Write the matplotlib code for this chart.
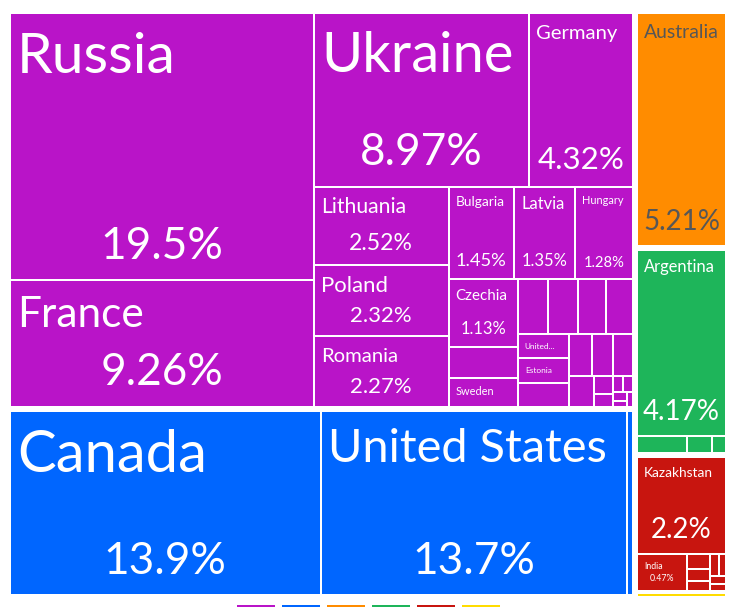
import matplotlib.pyplot as plt
from matplotlib.patches import Rectangle

plt.rcParams['font.family'] = ['Lato', 'DejaVu Sans']

# share of total, by continent
regions = ["Europe", "North America", "Oceania", "South America", "Asia", "Africa"]
region_colors = ["#B914C8", "#0066FF", "#FF8C00", "#1EB55A", "#C8150F", "#FFDC00"]

europe_names = ["Russia", "France", "Ukraine", "Germany", "Lithuania", "Poland", "Romania",
                "Bulgaria", "Latvia", "Hungary", "Czechia", "Slovakia", "Sweden", "Belarus",
                "Austria", "Serbia", "Finland", "United Kingdom", "Estonia", "Denmark",
                "Croatia", "Netherlands", "Moldova", "Belgium", "Italy", "Spain", "Norway",
                "Slovenia", "Greece", "Portugal", "Ireland"]
europe_values = [19.5, 9.26, 8.97, 4.32, 2.52, 2.32, 2.27, 1.45, 1.35, 1.28, 1.13, 0.52, 0.48,
                 0.40, 0.40, 0.37, 0.36, 0.30, 0.30, 0.30, 0.23, 0.21, 0.20, 0.18, 0.08, 0.06,
                 0.04, 0.04, 0.03, 0.02, 0.02]

namerica_names = ["Canada", "United States", "Mexico"]
namerica_values = [13.9, 13.7, 0.28]

oceania_names = ["Australia"]
oceania_values = [5.21]

samerica_names = ["Argentina", "Brazil", "Paraguay", "Uruguay"]
samerica_values = [4.17, 0.22, 0.11, 0.06]

asia_names = ["Kazakhstan", "India", "China", "Turkey", "Iran", "Japan", "Israel", "Georgia", "Uzbekistan"]
asia_values = [2.2, 0.47, 0.09, 0.07, 0.06, 0.05, 0.04, 0.03, 0.03]

africa_names = ["Egypt", "Morocco", "Tunisia", "Algeria"]
africa_values = [0.07, 0.006, 0.005, 0.004]

groups = [(europe_names, europe_values), (namerica_names, namerica_values),
          (oceania_names, oceania_values), (samerica_names, samerica_values),
          (asia_names, asia_values), (africa_names, africa_values)]

# label styles: (shown text, label px, percent px or None)
label_style = {
    "Russia": ("Russia", 62, 48), "Ukraine": ("Ukraine", 61, 48), "France": ("France", 46, 48),
    "Canada": ("Canada", 63, 48), "United States": ("United States", 51, 48),
    "Germany": ("Germany", 22, 34), "Australia": ("Australia", 21, 30),
    "Argentina": ("Argentina", 18, 30), "Kazakhstan": ("Kazakhstan", 15, 30),
    "Lithuania": ("Lithuania", 23, 25), "Poland": ("Poland", 24, 24), "Romania": ("Romania", 22, 24),
    "Bulgaria": ("Bulgaria", 15, 20), "Latvia": ("Latvia", 18, 18), "Hungary": ("Hungary", 12, 16),
    "Czechia": ("Czechia", 16.5, 18), "India": ("India", 9.5, 9.5),
    "United Kingdom": ("United...", 9, None), "Estonia": ("Estonia", 9, None),
    "Sweden": ("Sweden", 12, None),
}


def squarify(values, x0, y0, x1, y1, ratio=(1 + 5 ** 0.5) / 2):
    # port of d3.treemapSquarify
    rects = []
    total = float(sum(values))
    n = len(values)
    i0 = i1 = 0
    while i0 < n:
        dx, dy = x1 - x0, y1 - y0
        s = values[i1]
        i1 += 1
        mn = mx = s
        alpha = max(dy / dx, dx / dy) / (total * ratio)
        beta = s * s * alpha
        best = max(mx / beta, beta / mn)
        while i1 < n:
            v = values[i1]
            s2 = s + v
            mn2, mx2 = min(mn, v), max(mx, v)
            beta = s2 * s2 * alpha
            r = max(mx2 / beta, beta / mn2)
            if r > best:
                break
            s, mn, mx, best = s2, mn2, mx2, r
            i1 += 1
        row = values[i0:i1]
        if dx < dy:
            h = dy * s / total
            xx = x0
            for v in row:
                w = dx * v / s
                rects.append((xx, y0, xx + w, y0 + h))
                xx += w
            y0 += h
        else:
            w = dx * s / total
            yy = y0
            for v in row:
                h = dy * v / s
                rects.append((x0, yy, x0 + w, yy + h))
                yy += h
            x0 += w
        total -= s
        i0 = i1
    return rects


fig = plt.figure(figsize=(7.44, 6.07), dpi=100)
ax = fig.add_axes([0, 0, 1, 1])
ax.set_xlim(0, 744)
ax.set_ylim(607, 0)
ax.axis('off')

PX = 0.72 * 0.92  # px of the original font -> pt in Lato

group_rects = squarify([sum(v) for _, v in groups], 8, 11, 728, 597)
for gi, ((names, vals), (gx0, gy0, gx1, gy1)) in enumerate(zip(groups, group_rects)):
    color = region_colors[gi]
    txt_color = "#575757" if regions[gi] == "Oceania" else "white"
    leaf_rects = squarify(vals, gx0 + 2, gy0 + 2, gx1 - 2, gy1 - 2)
    for name, v, (x0, y0, x1, y1) in zip(names, vals, leaf_rects):
        ax.add_patch(Rectangle((x0 + 1, y0 + 1), x1 - x0 - 2, y1 - y0 - 2,
                               facecolor=color, edgecolor='none'))
        if name not in label_style:
            continue
        shown, lpx, ppx = label_style[name]
        ax.text(x0 + 7, y0 + 0.86 * lpx + 7, shown, fontsize=lpx * PX, color=txt_color,
                ha='left', va='baseline')
        if ppx:
            ax.text((x0 + x1) / 2, y1 - (7 + 0.3 * ppx), f"{v:.3g}%", fontsize=ppx * PX,
                    color=txt_color, ha='center', va='baseline')

# legend swatches, cut by the lower edge
for i, c in enumerate(region_colors):
    ax.add_patch(Rectangle((237 + 45 * i, 605), 38, 4, facecolor=c, edgecolor='none'))

fig.savefig("out.png", dpi=100)
